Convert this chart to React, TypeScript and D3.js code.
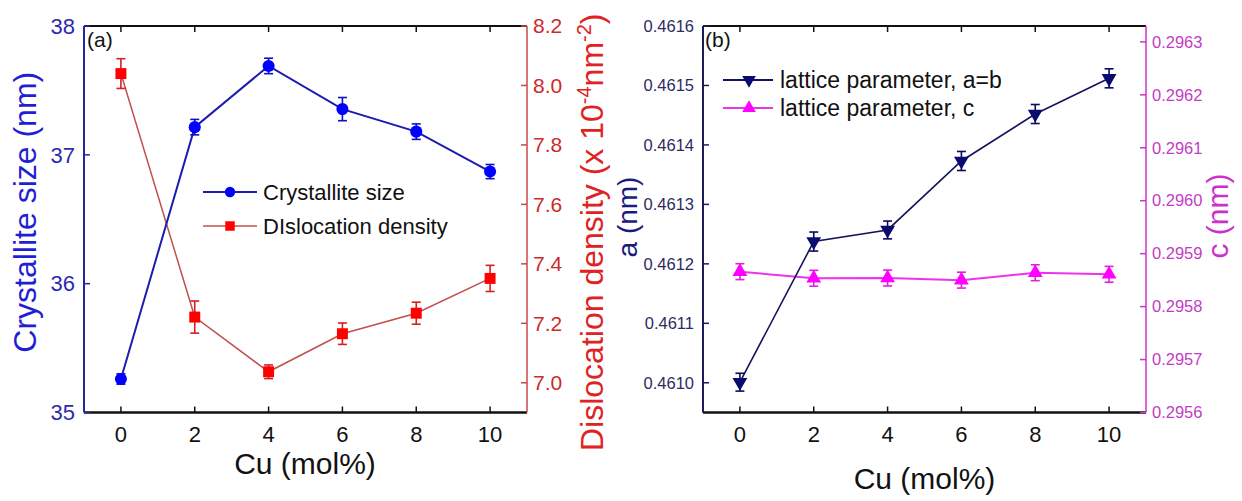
import React from 'react';
import * as d3 from 'd3';

// Cu content (mol%)
const cuMol = [0, 2, 4, 6, 8, 10];

// panel (a)
const crystalliteSize = [35.26, 37.215, 37.69, 37.355, 37.18, 36.87];
const crystalliteErr = [0.04, 0.06, 0.06, 0.09, 0.06, 0.055];
const dislocationDensity = [8.04, 7.221, 7.037, 7.165, 7.234, 7.351];
const dislocationErr = [0.05, 0.054, 0.023, 0.036, 0.037, 0.044];

// panel (b)
const latticeA = [0.461001, 0.4612375, 0.461257, 0.461373, 0.461452, 0.461512];
const latticeAErr = [0.000015, 0.000016, 0.000015, 0.000016, 0.000016, 0.000016];
const latticeC = [0.295866, 0.2958535, 0.295854, 0.29585, 0.295864, 0.295861];
const latticeCErr = [0.000015, 0.000015, 0.000015, 0.000015, 0.000015, 0.000015];

const sizeTicks = [35, 36, 37, 38];
const densityTicks = [7.0, 7.2, 7.4, 7.6, 7.8, 8.0, 8.2];
const aTicks = [0.461, 0.4611, 0.4612, 0.4613, 0.4614, 0.4615, 0.4616];
const cTicks = [0.2956, 0.2957, 0.2958, 0.2959, 0.296, 0.2961, 0.2962, 0.2963];

const FONT = '"Liberation Sans", Arial, Helvetica, sans-serif';
const TICK = 6;

const panelA = { left: 84, right: 527, top: 26, bottom: 412.5 };
const panelB = { left: 703, right: 1146, top: 26, bottom: 412.5 };

const symbolPath = (type, size) => d3.symbol().type(type).size(size)();

function Series({ xs, ys, errs, x, y, lineColor, lineWidth, markerColor, barColor, symbol, size, rotate = 0 }) {
  const line = d3.line().x((d, i) => x(xs[i])).y(d => y(d));
  const path = symbolPath(symbol, size);
  return (
    <g>
      <path d={line(ys)} fill="none" stroke={lineColor} strokeWidth={lineWidth} />
      {ys.map((v, i) => {
        const cx = x(xs[i]);
        const y0 = y(v - errs[i]);
        const y1 = y(v + errs[i]);
        return (
          <g key={i} stroke={barColor} strokeWidth={1.6}>
            <line x1={cx} x2={cx} y1={y0} y2={y1} />
            <line x1={cx - 4.5} x2={cx + 4.5} y1={y0} y2={y0} />
            <line x1={cx - 4.5} x2={cx + 4.5} y1={y1} y2={y1} />
          </g>
        );
      })}
      {ys.map((v, i) => (
        <path key={'m' + i} d={path} fill={markerColor}
          transform={`translate(${x(xs[i])},${y(v)}) rotate(${rotate})`} />
      ))}
    </g>
  );
}

function Frame({ p, x, leftColor, rightColor }) {
  return (
    <g>
      {cuMol.map(t => (
        <g key={t} stroke="#111" strokeWidth={1.5}>
          <line x1={x(t)} x2={x(t)} y1={p.bottom} y2={p.bottom - TICK} />
          <line x1={x(t)} x2={x(t)} y1={p.top} y2={p.top + TICK} />
        </g>
      ))}
      <line x1={p.left} x2={p.right} y1={p.top} y2={p.top} stroke="#111" strokeWidth={2} />
      <line x1={p.left} x2={p.right} y1={p.bottom} y2={p.bottom} stroke="#111" strokeWidth={2.4} />
      <line x1={p.left} x2={p.left} y1={p.top} y2={p.bottom} stroke={leftColor} strokeWidth={2} />
      <line x1={p.right} x2={p.right} y1={p.top} y2={p.bottom} stroke={rightColor} strokeWidth={1.5} />
      {cuMol.map(t => (
        <text key={'l' + t} x={x(t)} y={442} textAnchor="middle" fontSize={22} fill="#111">{t}</text>
      ))}
    </g>
  );
}

function YTicks({ ticks, y, xPos, side, color, labelColor, fontSize, fmt }) {
  const dir = side === 'left' ? 1 : -1;
  return (
    <g>
      {ticks.map(t => (
        <g key={t}>
          <line x1={xPos} x2={xPos + dir * TICK} y1={y(t)} y2={y(t)} stroke={color} strokeWidth={1.5} />
          <text x={side === 'left' ? xPos - 9 : xPos + 6} y={y(t)} dy="0.35em"
            textAnchor={side === 'left' ? 'end' : 'start'} fontSize={fontSize} fill={labelColor}>
            {fmt(t)}
          </text>
        </g>
      ))}
    </g>
  );
}

export default function App() {
  const xA = d3.scaleLinear().domain([-1, 11]).range([panelA.left, panelA.right]);
  const ySize = d3.scaleLinear().domain([35, 38]).range([panelA.bottom, panelA.top]);
  const yDens = d3.scaleLinear().domain([6.9, 8.2]).range([panelA.bottom, panelA.top]);

  const xB = d3.scaleLinear().domain([-1, 11]).range([panelB.left, panelB.right]);
  const yA = d3.scaleLinear().domain([0.46095, 0.4616]).range([panelB.bottom, panelB.top]);
  const yC = d3.scaleLinear().domain([0.2956, 0.29633]).range([panelB.bottom, panelB.top]);

  const circle = symbolPath(d3.symbolCircle, 85);
  const square = symbolPath(d3.symbolSquare, 90);
  const tri = symbolPath(d3.symbolTriangle, 80);

  const midA = (panelA.top + panelA.bottom) / 2;

  return (
    <svg width={1242} height={501} style={{ position: 'absolute', left: 0, top: 0, background: '#fff' }}
      fontFamily={FONT}>
      <rect width={1242} height={501} fill="#fff" />

      {/* ---------- panel (a) ---------- */}
      <Series xs={cuMol} ys={dislocationDensity} errs={dislocationErr} x={xA} y={yDens}
        lineColor="#c0504d" lineWidth={1.5} markerColor="#ff0000" barColor="#d42020"
        symbol={d3.symbolSquare} size={120} />
      <Series xs={cuMol} ys={crystalliteSize} errs={crystalliteErr} x={xA} y={ySize}
        lineColor="#1c1cb0" lineWidth={2} markerColor="#0000ff" barColor="#1010c0"
        symbol={d3.symbolCircle} size={115} />
      <Frame p={panelA} x={xA} leftColor="#26269a" rightColor="#c84848" />
      <YTicks ticks={sizeTicks} y={ySize} xPos={panelA.left} side="left" color="#26269a"
        labelColor="#2b2bb0" fontSize={22} fmt={d3.format('d')} />
      <YTicks ticks={densityTicks} y={yDens} xPos={panelA.right} side="right" color="#c84848"
        labelColor="#cc2b2b" fontSize={21} fmt={d3.format('.1f')} />

      <text x={87} y={47} fontSize={21} fill="#111">(a)</text>

      <g fontSize={22} fill="#111">
        <line x1={203} x2={257} y1={192} y2={192} stroke="#1c1cb0" strokeWidth={2} />
        <path d={circle} fill="#0000ff" transform="translate(230,192)" />
        <text x={263} y={192} dy="0.36em">Crystallite size</text>
        <line x1={203} x2={257} y1={226} y2={226} stroke="#c0504d" strokeWidth={1.5} />
        <path d={square} fill="#ff0000" transform="translate(230,226)" />
        <text x={263} y={226} dy="0.36em">DIslocation density</text>
      </g>

      <text x={305} y={474} textAnchor="middle" fontSize={30} fill="#111">Cu (mol%)</text>
      <text transform={`translate(36,${midA - 7}) rotate(-90)`} textAnchor="middle" fontSize={32}
        fill="#1f1fd6">Crystallite size (nm)</text>
      <text transform={`translate(603,${midA + 13}) rotate(-90)`} textAnchor="middle" fontSize={32}
        fill="#e02222">
        Dislocation density (x 10<tspan fontSize={20} dy={-12}>-4</tspan>
        <tspan dy={12}>nm</tspan><tspan fontSize={20} dy={-12}>-2</tspan><tspan dy={12}>)</tspan>
      </text>

      {/* ---------- panel (b) ---------- */}
      <Series xs={cuMol} ys={latticeC} errs={latticeCErr} x={xB} y={yC}
        lineColor="#ee33ee" lineWidth={2} markerColor="#ff00ff" barColor="#e020e0"
        symbol={d3.symbolTriangle} size={95} />
      <Series xs={cuMol} ys={latticeA} errs={latticeAErr} x={xB} y={yA}
        lineColor="#14145e" lineWidth={1.6} markerColor="#0a0a70" barColor="#0a0a60"
        symbol={d3.symbolTriangle} size={95} rotate={180} />
      <Frame p={panelB} x={xB} leftColor="#1c1c5c" rightColor="#cc33cc" />
      <YTicks ticks={aTicks} y={yA} xPos={panelB.left} side="left" color="#1c1c5c"
        labelColor="#2c2c62" fontSize={16.5} fmt={d3.format('.4f')} />
      <YTicks ticks={cTicks} y={yC} xPos={panelB.right} side="right" color="#cc33cc"
        labelColor="#c43cc4" fontSize={16.5} fmt={d3.format('.4f')} />

      <text x={705} y={47} fontSize={21} fill="#111">(b)</text>

      <g fontSize={23} fill="#111">
        <line x1={723} x2={773} y1={80} y2={80} stroke="#14145e" strokeWidth={2} />
        <path d={tri} fill="#0a0a70" transform="translate(749,80) rotate(180)" />
        <text x={780} y={80} dy="0.36em">lattice parameter, a=b</text>
        <line x1={723} x2={773} y1={108} y2={108} stroke="#ee33ee" strokeWidth={2} />
        <path d={tri} fill="#ff00ff" transform="translate(749,108)" />
        <text x={780} y={108} dy="0.36em">lattice parameter, c</text>
      </g>

      <text x={924.5} y={489} textAnchor="middle" fontSize={30} fill="#111">Cu (mol%)</text>
      <text transform={`translate(637,217) rotate(-90)`} textAnchor="middle" fontSize={28}
        fill="#1a1a80">a (nm)</text>
      <text transform={`translate(1228,216) rotate(-90)`} textAnchor="middle" fontSize={30}
        fill="#cc30cc">c (nm)</text>
    </svg>
  );
}
